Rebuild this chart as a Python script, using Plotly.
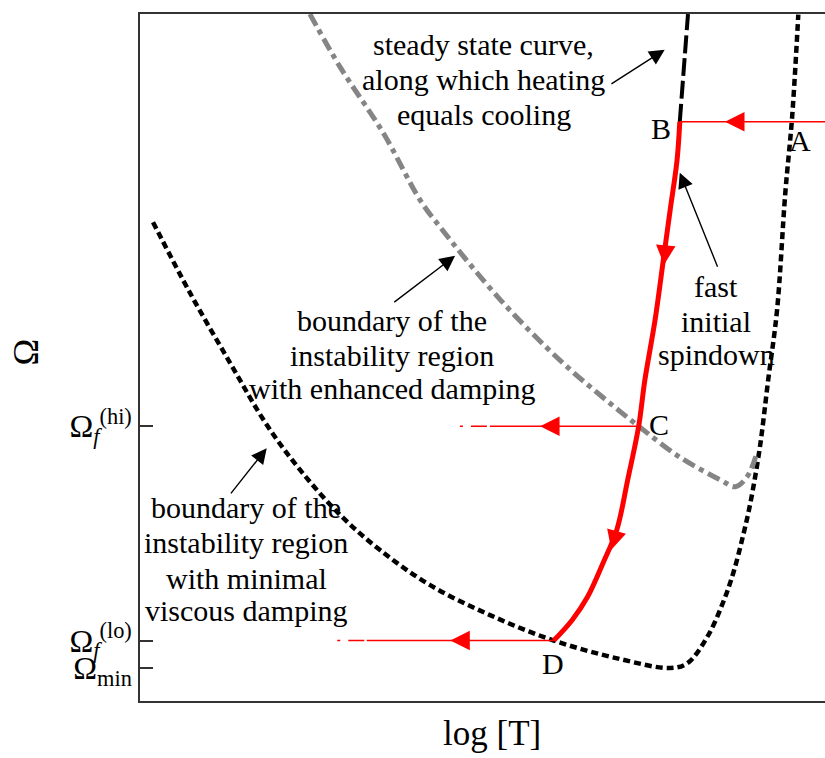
import plotly.graph_objects as go

# Schematic spin-temperature evolution: Omega vs log T (arbitrary units, 0..10)
# Boundary of the instability region with minimal viscous damping
min_logT = [0.19, 0.73, 1.31, 1.85, 2.34, 2.92, 3.50, 4.23, 5.11, 6.04, 7.01, 7.74,
            7.99, 8.28, 8.51, 8.66, 8.80, 8.91, 9.05, 9.17, 9.30, 9.42, 9.52, 9.61]
min_omega = [6.97, 5.94, 4.93, 4.02, 3.36, 2.71, 2.20, 1.69, 1.25, 0.88, 0.61, 0.48,
             0.55, 0.93, 1.43, 1.86, 2.39, 2.88, 3.70, 4.67, 5.69, 7.39, 8.50, 9.99]

# Boundary of the instability region with enhanced damping
enh_logT = [2.48, 2.92, 3.55, 4.09, 4.38, 5.26, 6.13, 6.72, 7.28, 7.88, 8.47, 8.69, 8.86, 9.01]
enh_omega = [10.0, 9.23, 8.27, 7.29, 6.90, 5.84, 4.96, 4.45, 4.00, 3.55, 3.22, 3.12, 3.26, 3.62]

# Steady state curve (heating = cooling), upper part
ss_logT = [7.88, 7.94, 8.00]
ss_omega = [8.43, 9.22, 10.0]

# Evolution track B -> C -> D
track_logT = [7.88, 7.84, 7.74, 7.64, 7.52, 7.37, 7.28, 7.12, 6.96, 6.76, 6.53, 6.31, 6.04]
track_omega = [8.43, 7.87, 7.15, 6.42, 5.55, 4.67, 4.00, 3.22, 2.49, 2.01, 1.51, 1.18, 0.88]

# Characteristic spin frequencies
omega_hi = 4.00
omega_lo = 0.88
omega_min = 0.48
tick_vals = [omega_hi, omega_lo, omega_min]
tick_text = ["Ω<sub><i>f</i></sub><sup>(hi)</sup>",
             "Ω<sub><i>f</i></sub><sup>(lo)</sup>",
             "Ω<sub>min</sub>"]

# Horizontal spin-down segments: [start logT, end logT, dashed-tail start]
seg_A = [10.0, 7.88]
seg_C = [7.28, 5.11, 4.67]
seg_D = [6.04, 3.31, 2.88]

# Point labels
pt_names = ["A", "B", "C", "D"]
pt_logT = [9.64, 7.61, 7.57, 6.03]
pt_omega = [8.16, 8.34, 4.03, 0.55]

SERIF = "Liberation Serif, Times New Roman, serif"
RED = "#ff0000"
TXT = 30

fig = go.Figure()

fig.add_trace(go.Scatter(x=min_logT, y=min_omega, mode="lines", line_shape="spline",
                         line=dict(color="black", width=4.5, dash="7px,4px"), hoverinfo="skip"))
fig.add_trace(go.Scatter(x=enh_logT, y=enh_omega, mode="lines", line_shape="spline",
                         line=dict(color="#858585", width=5, dash="13px,5px,5px,5px"), hoverinfo="skip"))
fig.add_trace(go.Scatter(x=ss_logT, y=ss_omega, mode="lines", line_shape="spline",
                         line=dict(color="black", width=4, dash="18px,5px"), hoverinfo="skip"))

# thin red horizontal tracks
fig.add_trace(go.Scatter(x=seg_A, y=[ss_omega[0]] * 2, mode="lines",
                         line=dict(color=RED, width=1.5), hoverinfo="skip"))
fig.add_trace(go.Scatter(x=seg_C[:2], y=[omega_hi] * 2, mode="lines",
                         line=dict(color=RED, width=1.5), hoverinfo="skip"))
fig.add_trace(go.Scatter(x=[seg_C[2], seg_C[1]], y=[omega_hi] * 2, mode="lines",
                         line=dict(color=RED, width=1.5, dash="3px,8px,16px"), hoverinfo="skip"))
fig.add_trace(go.Scatter(x=seg_D[:2], y=[omega_lo] * 2, mode="lines",
                         line=dict(color=RED, width=1.5), hoverinfo="skip"))
fig.add_trace(go.Scatter(x=[seg_D[2], seg_D[1]], y=[omega_lo] * 2, mode="lines",
                         line=dict(color=RED, width=1.5, dash="3px,8px,16px"), hoverinfo="skip"))

# thick red track
fig.add_trace(go.Scatter(x=track_logT, y=track_omega, mode="lines", line_shape="spline",
                         line=dict(color=RED, width=5), hoverinfo="skip"))

ann = []


def arrow(x, y, ax, ay, color, width, size):
    ann.append(dict(x=x, y=y, ax=ax, ay=ay, xref="x", yref="y", axref="x", ayref="y",
                    text="", showarrow=True, arrowhead=2, arrowsize=size,
                    arrowwidth=width, arrowcolor=color))


# direction arrows on the red tracks
arrow(8.54, ss_omega[0], 8.80, ss_omega[0], RED, 1.5, 2.6)
arrow(5.84, omega_hi, 6.10, omega_hi, RED, 1.5, 2.6)
arrow(4.53, omega_lo, 4.80, omega_lo, RED, 1.5, 2.6)
arrow(7.65, 6.35, 7.69, 6.80, RED, 3, 1.3)
arrow(6.88, 2.20, 6.97, 2.52, RED, 3, 1.3)

# pointer arrows for the explanatory notes
arrow(7.66, 9.48, 6.86, 8.97, "black", 1.4, 2.2)
arrow(7.88, 7.69, 8.44, 6.30, "black", 1.4, 2.2)
arrow(4.60, 6.48, 3.69, 5.79, "black", 1.4, 2.2)
arrow(1.85, 3.68, 1.31, 3.00, "black", 1.4, 2.2)

# explanatory notes, one annotation per line: (logT centre, Omega of each line, lines)
notes = [
    (5.02, [9.55, 9.04, 8.54], ["steady state curve,", "along which heating", "equals cooling"]),
    (8.41, [6.03, 5.52, 5.04], ["fast", "initial", "spindown"]),
    (3.68, [5.54, 5.03, 4.55], ["boundary of the", "instability region", "with enhanced damping"]),
    (1.55, [2.81, 2.30, 1.79, 1.32], ["boundary of the", "instability region",
                                      "with minimal", "viscous damping"]),
]
for x, ys, lines in notes:
    for y, t in zip(ys, lines):
        ann.append(dict(x=x, y=y, xref="x", yref="y", text=t, showarrow=False,
                        font=dict(family=SERIF, size=TXT, color="black")))

for n, x, y in zip(pt_names, pt_logT, pt_omega):
    ann.append(dict(x=x, y=y, xref="x", yref="y", text=n, showarrow=False,
                    font=dict(family=SERIF, size=TXT, color="black")))

# axis titles
ann.append(dict(x=0.514, y=-0.048, xref="paper", yref="paper", text="log [T]",
                showarrow=False, xanchor="center", yanchor="middle",
                font=dict(family=SERIF, size=35, color="black")))
ann.append(dict(x=-0.167, y=0.508, xref="paper", yref="paper", text="Ω",
                showarrow=False, xanchor="center", yanchor="middle", textangle=-90,
                font=dict(family=SERIF, size=36, color="black")))

fig.update_layout(
    width=825, height=758,
    margin=dict(l=140, r=0, t=14, b=57),
    paper_bgcolor="white", plot_bgcolor="white",
    showlegend=False,
    annotations=ann,
    font=dict(family=SERIF, color="black"),
    xaxis=dict(range=[0, 10], showgrid=False, zeroline=False, showticklabels=False,
               ticks="", showline=True, mirror=True, linecolor="#333", linewidth=1.5),
    yaxis=dict(range=[0, 10], showgrid=False, zeroline=False,
               tickmode="array", tickvals=tick_vals, ticktext=tick_text,
               ticks="inside", ticklen=13, tickwidth=1.5, tickcolor="#333",
               tickfont=dict(family=SERIF, size=32, color="black"),
               showline=True, mirror=False, linecolor="#333", linewidth=1.5),
)

fig.write_html("out.html")
